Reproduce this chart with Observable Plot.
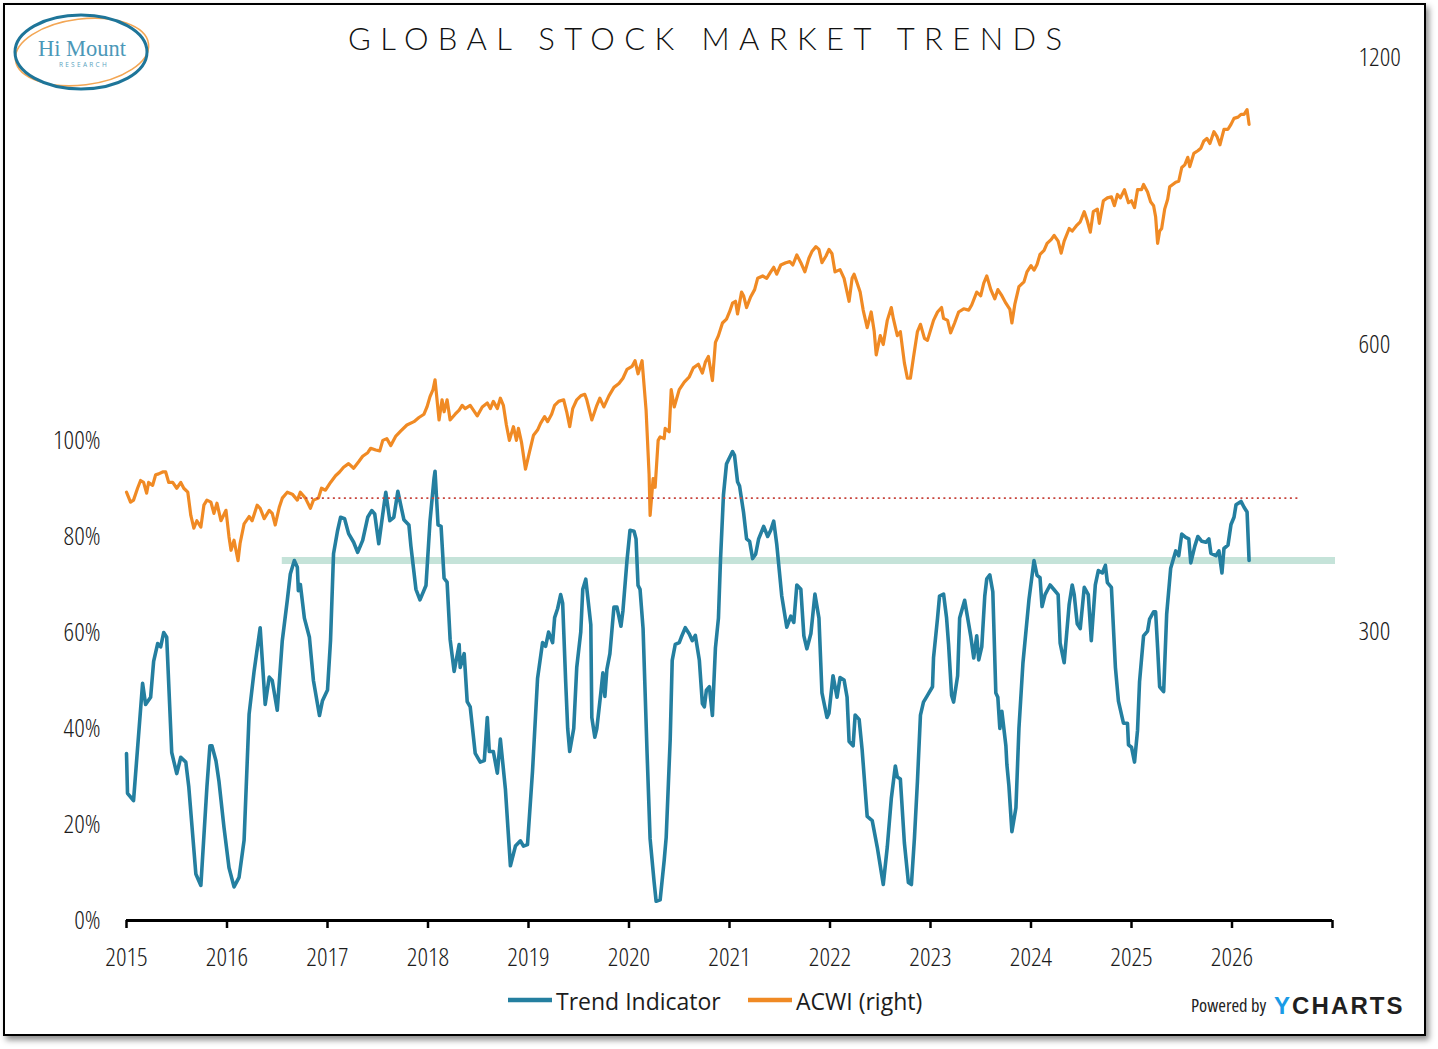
<!DOCTYPE html>
<html>
<head>
<meta charset="utf-8">
<script src="https://cdn.jsdelivr.net/npm/d3@7"></script>
<script src="https://cdn.jsdelivr.net/npm/@observablehq/plot@0.6"></script>
<style>
  html, body { margin: 0; padding: 0; background: #fff; }
  body { width: 1438px; height: 1049px; position: relative; overflow: hidden; }
  #frame { position: absolute; left: 3px; top: 3px; width: 1423px; height: 1033px; box-sizing: border-box;
           border: 2.5px solid #000; background: #fff; box-shadow: 3px 4px 6px rgba(0,0,0,0.45); }
  #plot { position: absolute; left: 0; top: 0; }
  #deco { position: absolute; left: 0; top: 0; pointer-events: none; }
</style>
</head>
<body>
<div id="frame"></div>
<div id="plot"></div>
<svg id="deco" width="1438" height="1049" xmlns="http://www.w3.org/2000/svg"></svg>
<script>
// ---------------- DATA ----------------
// Trend Indicator (% , left axis) — decimal years
const trendT = [
2015.00,2015.01,2015.07,2015.16,2015.19,2015.24,2015.27,2015.31,2015.34,2015.37,
2015.40,2015.45,2015.50,2015.54,2015.59,2015.62,2015.69,2015.74,2015.80,2015.83,
2015.85,2015.89,2015.92,2015.97,2016.02,2016.07,2016.12,2016.17,2016.22,2016.27,
2016.33,2016.38,2016.42,2016.45,2016.50,2016.55,2016.60,2016.63,2016.67,2016.70,
2016.71,2016.73,2016.77,2016.82,2016.86,2016.92,2016.95,2017.00,2017.03,2017.06,
2017.10,2017.13,2017.17,2017.21,2017.26,2017.30,2017.35,2017.40,2017.44,2017.47,
2017.51,2017.55,2017.58,2017.62,2017.66,2017.70,2017.76,2017.81,2017.83,2017.88,
2017.92,2017.98,2018.02,2018.06,2018.07,2018.10,2018.13,2018.16,2018.19,2018.22,
2018.26,2018.31,2018.32,2018.36,2018.39,2018.42,2018.47,2018.52,2018.56,2018.59,
2018.61,2018.65,2018.69,2018.72,2018.77,2018.82,2018.87,2018.92,2018.95,2018.99,
2019.04,2019.09,2019.14,2019.17,2019.20,2019.24,2019.26,2019.29,2019.32,2019.34,
2019.37,2019.39,2019.41,2019.45,2019.48,2019.52,2019.54,2019.57,2019.62,2019.63,
2019.66,2019.68,2019.72,2019.74,2019.76,2019.78,2019.81,2019.85,2019.88,2019.92,
2019.94,2019.98,2020.01,2020.05,2020.07,2020.09,2020.11,2020.14,2020.18,2020.21,
2020.25,2020.27,2020.31,2020.35,2020.37,2020.41,2020.43,2020.46,2020.50,2020.52,
2020.56,2020.60,2020.63,2020.66,2020.70,2020.73,2020.75,2020.77,2020.80,2020.83,
2020.86,2020.89,2020.91,2020.94,2020.97,2020.99,2021.03,2021.05,2021.08,2021.10,
2021.14,2021.17,2021.20,2021.23,2021.26,2021.29,2021.34,2021.38,2021.41,2021.44,
2021.47,2021.52,2021.57,2021.61,2021.64,2021.67,2021.71,2021.74,2021.77,2021.81,
2021.85,2021.89,2021.92,2021.97,2021.99,2022.03,2022.07,2022.10,2022.14,2022.17,
2022.19,2022.23,2022.25,2022.29,2022.32,2022.37,2022.42,2022.47,2022.53,2022.57,
2022.61,2022.65,2022.67,2022.70,2022.74,2022.78,2022.81,2022.84,2022.87,2022.90,
2022.93,2022.97,2023.02,2023.03,2023.07,2023.09,2023.13,2023.16,2023.18,2023.21,
2023.23,2023.27,2023.29,2023.34,2023.37,2023.40,2023.43,2023.46,2023.48,2023.51,
2023.54,2023.56,2023.59,2023.62,2023.65,2023.67,2023.69,2023.71,2023.75,2023.76,
2023.78,2023.81,2023.85,2023.88,2023.92,2023.98,2024.03,2024.06,2024.09,2024.11,
2024.14,2024.19,2024.23,2024.27,2024.29,2024.33,2024.38,2024.41,2024.43,2024.46,
2024.49,2024.53,2024.57,2024.60,2024.64,2024.67,2024.71,2024.74,2024.76,2024.80,
2024.84,2024.87,2024.92,2024.96,2024.97,2025.00,2025.03,2025.06,2025.08,2025.12,
2025.16,2025.18,2025.22,2025.24,2025.26,2025.28,2025.32,2025.35,2025.39,2025.44,
2025.47,2025.50,2025.54,2025.57,2025.59,2025.63,2025.66,2025.70,2025.74,2025.77,
2025.79,2025.84,2025.87,2025.90,2025.92,2025.96,2025.99,2026.02,2026.04,2026.09,
2026.12,2026.15,2026.17];
const trendV = [
34.8,26.5,25,49.4,45,46.5,54,57.7,57,60,
59,35,30.6,34,33,27.8,9.7,7.3,27.8,36.4,
36.4,33.3,29,19.4,11,7,9,16.7,43,52,
61,45,50.7,50,43.8,58.3,66.7,72.2,75,73.6,
68.7,70,63,59,50,42.7,45.8,48,58.3,76.4,
81.2,84,83.7,80.6,78.8,76.7,79.2,84,85.4,84.7,
78.5,84.7,89.2,83.3,84,89.4,83.5,82.4,78,69,
66.8,69.8,83.2,92.1,93.6,82.4,82.1,71.3,70.5,58.6,
51.9,57.5,52.7,55.6,45.6,44.5,34.8,33,33.3,42.3,
35.2,35.2,30.7,37.8,27.4,11.4,15.5,16.6,15.5,15.8,
31.1,50.4,57.9,57.1,60.1,57.9,63.1,65,67.9,66.1,
49.7,40,35.2,40,52.7,60.1,69,71.1,61.6,42.3,
38.2,40,47.5,51.6,46.7,52.3,55.6,65.3,65.3,61.3,
64.6,75,81.3,81.1,79.5,69.8,69,60.8,34.8,17,
8,4,4.3,12.5,17.3,37.8,54.2,57.5,57.9,59,
61,59.7,58.3,59.4,54.2,45.2,44.5,48,48.7,42.7,
56.8,63,74.9,88.7,95.1,96,97.7,96.9,91.4,90.5,
85,79.5,79,75.4,76.3,79.5,82.1,80,81.3,83.2,
78.4,67.6,61.1,63.4,62.1,69.9,69,59.3,56.6,59.8,
68,63,47.4,42.3,43.2,51,46.5,50.6,50.1,46.5,
37.3,36.4,42.8,41.9,35.5,21.7,20.8,15.3,7.5,15.3,
25.4,32.2,29.9,29.5,16.2,7.9,7.5,17.1,29,42.8,
45.5,46.9,48.7,54.7,63,67.6,68,63,57.5,46.9,
45.5,51,63,66.7,63,59.3,54.7,59.3,54.3,57,
67.6,71.2,72,68.5,47.4,46.5,40,43.6,36.4,32.5,
28.1,18.5,23.5,40,53.7,66.9,75,71.9,71.4,65.4,
67.9,69.9,68.9,67.9,57.8,53.7,65.9,69.9,67.9,61.8,
60.8,69.4,67.9,58.3,69.9,72.9,72.4,74,70.4,69.4,
52.7,45.7,41.1,41.1,36.6,36.1,33,39.6,49.7,59.3,
60.3,62.8,64.3,64.3,56.8,48.7,47.7,63.8,73.4,77,
76,80.5,79.8,79.5,74.5,78,80,79,78.8,79.5,
76.5,76,77,72.4,77.5,78.2,82.5,84,86.6,87.3,
86.1,85.1,75];

// ACWI (right axis, log scale) — decimal years
const acwiT = [
2015.00,2015.04,2015.07,2015.11,2015.14,2015.17,2015.20,2015.22,2015.26,2015.29,
2015.32,2015.36,2015.39,2015.42,2015.46,2015.50,2015.54,2015.57,2015.61,2015.64,
2015.67,2015.70,2015.74,2015.77,2015.80,2015.84,2015.87,2015.90,2015.94,2015.99,
2016.02,2016.04,2016.07,2016.11,2016.13,2016.17,2016.22,2016.25,2016.30,2016.33,
2016.37,2016.42,2016.45,2016.48,2016.52,2016.55,2016.60,2016.65,2016.70,2016.73,
2016.78,2016.83,2016.86,2016.91,2016.94,2016.98,2017.03,2017.08,2017.12,2017.16,
2017.21,2017.26,2017.31,2017.35,2017.40,2017.43,2017.48,2017.52,2017.55,2017.59,
2017.63,2017.68,2017.73,2017.79,2017.86,2017.91,2017.96,2017.99,2018.02,2018.05,
2018.07,2018.11,2018.14,2018.16,2018.19,2018.22,2018.27,2018.31,2018.34,2018.37,
2018.42,2018.49,2018.54,2018.59,2018.62,2018.65,2018.69,2018.72,2018.75,2018.78,
2018.81,2018.85,2018.88,2018.90,2018.93,2018.97,2019.01,2019.05,2019.09,2019.12,
2019.16,2019.19,2019.23,2019.26,2019.30,2019.35,2019.38,2019.41,2019.44,2019.48,
2019.52,2019.56,2019.58,2019.63,2019.68,2019.71,2019.75,2019.80,2019.85,2019.90,
2019.94,2019.98,2020.03,2020.06,2020.09,2020.13,2020.17,2020.20,2020.21,2020.24,
2020.26,2020.29,2020.31,2020.35,2020.36,2020.40,2020.42,2020.45,2020.50,2020.55,
2020.60,2020.64,2020.69,2020.73,2020.76,2020.79,2020.83,2020.86,2020.89,2020.93,
2020.97,2021.00,2021.03,2021.06,2021.08,2021.12,2021.14,2021.17,2021.21,2021.25,
2021.28,2021.33,2021.37,2021.41,2021.44,2021.47,2021.51,2021.56,2021.60,2021.63,
2021.67,2021.71,2021.75,2021.79,2021.82,2021.86,2021.89,2021.92,2021.96,2021.99,
2022.02,2022.05,2022.10,2022.14,2022.19,2022.22,2022.24,2022.27,2022.30,2022.33,
2022.37,2022.41,2022.44,2022.46,2022.50,2022.53,2022.57,2022.61,2022.63,2022.67,
2022.70,2022.74,2022.77,2022.80,2022.83,2022.87,2022.90,2022.94,2022.97,2023.03,
2023.07,2023.11,2023.13,2023.17,2023.20,2023.24,2023.28,2023.33,2023.38,2023.41,
2023.46,2023.50,2023.53,2023.56,2023.60,2023.64,2023.67,2023.71,2023.75,2023.79,
2023.81,2023.84,2023.88,2023.93,2023.96,2024.00,2024.03,2024.06,2024.09,2024.13,
2024.16,2024.20,2024.23,2024.27,2024.30,2024.33,2024.38,2024.41,2024.45,2024.49,
2024.53,2024.56,2024.59,2024.62,2024.66,2024.68,2024.72,2024.76,2024.80,2024.83,
2024.86,2024.89,2024.93,2024.97,2025.00,2025.03,2025.06,2025.10,2025.12,2025.16,
2025.19,2025.22,2025.24,2025.26,2025.28,2025.30,2025.33,2025.36,2025.38,2025.41,
2025.44,2025.47,2025.50,2025.53,2025.56,2025.58,2025.62,2025.66,2025.69,2025.72,
2025.75,2025.78,2025.82,2025.85,2025.88,2025.92,2025.96,2025.99,2026.02,2026.06,
2026.09,2026.12,2026.15,2026.17];
const acwiP = [
420,410,412,424,432,430,419,430,427,438,
439,441,441,430,430,424,430,424,420,397,
385,392,386,407,412,410,399,409,392,402,
377,365,374,356,371,389,396,392,407,404,
394,402,399,388,405,414,420,418,412,420,
414,404,412,414,424,422,430,437,441,446,
450,445,452,458,462,467,465,464,476,478,
470,481,487,494,498,503,507,516,529,538,
551,500,525,510,525,500,507,512,518,514,
518,505,516,521,514,523,514,527,518,494,
476,492,476,490,474,444,463,482,488,496,
504,498,507,518,523,525,510,492,514,525,
530,532,525,500,518,527,516,530,541,546,
553,565,569,577,559,577,512,438,397,434,
425,476,480,478,490,486,538,516,538,548,
555,567,572,560,575,583,550,603,613,632,
638,649,663,666,646,681,675,656,673,685,
704,708,704,715,723,711,727,731,733,727,
745,731,715,739,751,760,755,731,743,755,
747,715,719,704,666,704,711,696,681,652,
625,649,619,585,613,600,636,656,639,613,
619,574,553,553,581,619,630,609,606,636,
649,656,639,636,617,632,649,654,652,660,
681,675,696,708,685,670,685,675,663,653,
632,662,690,698,715,726,718,728,746,753,
766,773,781,770,748,770,794,789,799,807,
827,809,787,827,832,804,849,855,857,839,
862,855,872,845,849,835,872,872,883,867,
847,839,817,766,789,794,832,852,878,883,
888,890,920,926,943,922,952,958,964,981,
987,975,1003,992,972,1009,1009,1021,1036,1039,
1046,1046,1058,1021];

// Axis ticks
const xTickYears = [2015,2016,2017,2018,2019,2020,2021,2022,2023,2024,2025,2026,2027];
const xTickLabels = ["2015","2016","2017","2018","2019","2020","2021","2022","2023","2024","2025","2026",""];
const leftTicks = [0,20,40,60,80,100];
const rightTicks = [300,600,1200];

// Reference levels
const bandLevel = 75;      const bandFrom = 2016.55, bandTo = 2027.03;
const refLevel = 88;       const refFrom = 2016.73,  refTo = 2026.68;

// ---------------- HELPERS ----------------
// right (log) axis expressed in left-axis units: 300 -> 60.21%, one doubling = 59.79%
const vOf = p => 60.21 + 59.79 * Math.log2(p / 300);

function measure(family, stretch, size) {
  const s = document.createElement("span");
  s.style.cssText = `position:absolute;left:-9999px;top:0;visibility:hidden;white-space:nowrap;font-family:${family};font-size:${size}px;font-stretch:${stretch};`;
  s.textContent = "2015 100% 1200";
  document.body.appendChild(s);
  const w = s.getBoundingClientRect().width;
  s.remove();
  return w;
}
function hasFont(f) {
  return measure(`"${f}", monospace`, "100%", 40) !== measure("monospace", "100%", 40) ||
         measure(`"${f}", serif`, "100%", 40) !== measure("serif", "100%", 40);
}
// choose a narrow face for tick labels (reference uses condensed digits)
let tickFont = '"Open Sans", sans-serif', tickStretch = "100%", tickSizePx = 22, tickWeight = 400;
if (hasFont("Liberation Sans Narrow")) {
  tickFont = '"Liberation Sans Narrow", "Open Sans", sans-serif'; tickSizePx = 26;
} else {
  const w100 = measure('"Open Sans", sans-serif', "100%", 26);
  const w75 = measure('"Open Sans", sans-serif', "78%", 26);
  if (w75 < w100 - 4) { tickStretch = "78%"; tickSizePx = 26; tickWeight = 330; }
}

const n1 = Math.min(trendT.length, trendV.length);
const trendRows = d3.range(n1).map(i => ({t: trendT[i], v: trendV[i]}));
const n2 = Math.min(acwiT.length, acwiP.length);
const acwiRows = d3.range(n2).map(i => ({t: acwiT[i], p: acwiP[i]}));
const bandRows = [{v: bandLevel, x1: bandFrom, x2: bandTo}];
const refRows = [{v: refLevel, x1: refFrom, x2: refTo}];

const BLUE = "#247fa0", ORANGE = "#f08a24";

const chart = Plot.plot({
  width: 1438, height: 1000,
  marginTop: 57, marginBottom: 80, marginLeft: 126, marginRight: 106,
  x: {domain: [2015, 2027], label: null},
  y: {domain: [0, vOf(1200)], label: null},
  style: {background: "transparent", fontFamily: tickFont, fontSize: tickSizePx + "px", color: "#1c1c1c", overflow: "visible"},
  marks: [
    Plot.ruleY(bandRows, {y: "v", x1: "x1", x2: "x2", stroke: "#c5e3d9", strokeWidth: 7}),
    Plot.line(acwiRows, {x: "t", y: d => vOf(d.p), stroke: ORANGE, strokeWidth: 3.2, strokeLinejoin: "round"}),
    Plot.line(trendRows, {x: "t", y: "v", stroke: BLUE, strokeWidth: 3.6, strokeLinejoin: "round"}),
    Plot.ruleY(refRows, {y: "v", x1: "x1", x2: "x2", stroke: "#c8443c", strokeWidth: 1.6, strokeDasharray: "2 3.5"}),
    Plot.ruleY([0], {stroke: "#000", strokeWidth: 3}),
    Plot.axisX({ticks: xTickYears, tickFormat: d => xTickLabels[xTickYears.indexOf(d)], tickSize: 8, tickPadding: 19,
                stroke: "#000", strokeWidth: 2.5, label: null, fontSize: tickSizePx, fontFamily: tickFont, fontWeight: tickWeight}),
    Plot.axisY({anchor: "left", ticks: leftTicks, tickFormat: d => d + "%", tickSize: 0, tickPadding: 26,
                label: null, fontSize: tickSizePx, fontFamily: tickFont, fontWeight: tickWeight}),
    Plot.axisY({anchor: "right", ticks: rightTicks.map(vOf), tickFormat: (d, i) => String(rightTicks[i]),
                tickSize: 0, tickPadding: 26, label: null, fontSize: tickSizePx, fontFamily: tickFont, fontWeight: tickWeight})
  ]
});
chart.style.fontStretch = tickStretch;
chart.querySelectorAll("text").forEach(t => t.style.fontStretch = tickStretch);
document.getElementById("plot").appendChild(chart);

// ---------------- DECORATION: title, logo, legend, credit ----------------
const deco = d3.select("#deco");

// Logo
const logo = deco.append("g");
logo.append("ellipse").attr("cx", 82).attr("cy", 52).attr("rx", 67).attr("ry", 33)
  .attr("transform", "rotate(-7 82 52)").attr("fill", "none").attr("stroke", "#f3a654").attr("stroke-width", 1.6);
logo.append("ellipse").attr("cx", 81).attr("cy", 52).attr("rx", 66).attr("ry", 37)
  .attr("fill", "none").attr("stroke", "#1e7599").attr("stroke-width", 3);
logo.append("text").attr("x", 82).attr("y", 55.5).attr("text-anchor", "middle")
  .attr("font-family", '"Liberation Serif", "DejaVu Serif", serif').attr("font-size", 22.5)
  .attr("fill", "#4b98b8").text("Hi Mount");
logo.append("text").attr("x", 84).attr("y", 66.5).attr("text-anchor", "middle")
  .attr("font-family", '"Open Sans", sans-serif').attr("font-size", 6.5).attr("letter-spacing", 2.3)
  .attr("fill", "#5aa3c0").text("RESEARCH");

// Title
const title = deco.append("text").attr("x", 705).attr("y", 50).attr("text-anchor", "middle")
  .attr("font-family", 'Lato, "Open Sans", sans-serif').attr("font-weight", 300).attr("font-size", 31)
  .attr("fill", "#111").text("GLOBAL STOCK MARKET TRENDS");
{
  const node = title.node();
  const w0 = node.getComputedTextLength();
  const n = "GLOBAL STOCK MARKET TRENDS".length;
  const ls = Math.max(0, (714 - w0) / (n - 1));
  title.attr("letter-spacing", ls).attr("x", 705 + ls / 2);
}

// Legend
const legendFont = '"Open Sans", sans-serif';
deco.append("line").attr("x1", 508).attr("x2", 552).attr("y1", 1000).attr("y2", 1000)
  .attr("stroke", BLUE).attr("stroke-width", 4.5);
deco.append("text").attr("x", 556).attr("y", 1009.5).attr("font-family", legendFont).attr("font-size", 23)
  .attr("fill", "#1c1c1c").text("Trend Indicator");
deco.append("line").attr("x1", 748).attr("x2", 792).attr("y1", 1000).attr("y2", 1000)
  .attr("stroke", ORANGE).attr("stroke-width", 4.5);
deco.append("text").attr("x", 796).attr("y", 1009.5).attr("font-family", legendFont).attr("font-size", 23)
  .attr("fill", "#1c1c1c").text("ACWI (right)");

// Credit
deco.append("text").attr("x", 1191).attr("y", 1012).attr("font-family", tickFont)
  .attr("font-size", tickStretch !== "100%" ? 18.5 : 15).style("font-stretch", tickStretch)
  .attr("fill", "#222").text("Powered by");
const yc = deco.append("text").attr("x", 1274).attr("y", 1014)
  .attr("font-family", '"Liberation Sans", Arial, sans-serif').attr("font-weight", 700)
  .attr("font-size", 24).attr("letter-spacing", 2.1);
yc.append("tspan").attr("fill", "#1a9be6").text("Y");
yc.append("tspan").attr("fill", "#1f1f21").text("CHARTS");
</script>
</body>
</html>
